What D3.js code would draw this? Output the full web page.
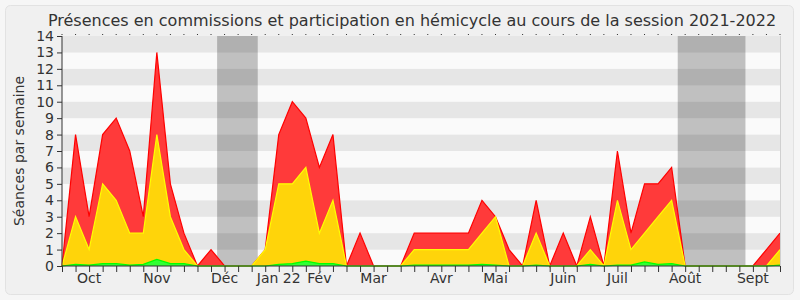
<!DOCTYPE html>
<html><head><meta charset="utf-8">
<script src="https://cdn.jsdelivr.net/npm/d3@7"></script>
<style>html,body{margin:0;padding:0;background:#f6f6f6;}svg{display:block;}</style>
</head><body>
<svg id="chart" width="800" height="300"></svg>
<script>
// Weekly data, session 2021-2022 (week index 0..53)
const weeks = d3.range(0, 54);
const totalSeances = [0,8,3,8,9,7,3,13,5,2,0,1,0,0,0,1,8,10,9,6,8,0,2,0,0,0,2,2,2,2,2,4,3,1,0,4,0,2,0,3,0,7,2,5,5,6,0,0,0,0,0,0,1,2];
const hemicycle =    [0,3,1,5,4,2,2,8,3,1,0,0,0,0,0,1,5,5,6,2,4,0,0,0,0,0,1,1,1,1,1,2,3,0,0,2,0,0,0,1,0,4,1,2,3,4,0,0,0,0,0,0,0,1];
const questions =    [0,0.1,0.05,0.15,0.15,0.05,0.1,0.4,0.15,0.15,0,0,0,0,0,0,0.1,0.15,0.3,0.15,0.15,0,0,0,0,0,0.05,0.05,0.05,0.05,0.05,0.1,0.05,0,0,0.05,0,0,0,0.1,0,0.05,0.05,0.25,0.1,0.15,0,0,0,0,0,0,0,0.05];
const monthLabels = ["Oct","Nov","Déc","Jan 22","Fév","Mar","Avr","Mai","Juin","Juil","Août","Sept"];
const monthWeeks = [2,7,12,16,19,23,28,32,37,41,46,51];
const holidays = [[11.45,14.45],[45.45,50.45]];
const yTicks = d3.range(0, 15);

const svg = d3.select("#chart");
const m = {l:62, r:780, t:36, b:266};
const x = d3.scaleLinear().domain([0,53]).range([m.l, m.r]);
const y = d3.scaleLinear().domain([0,14]).range([m.b, m.t]);

svg.append("rect").attr("x",5.5).attr("y",5.5).attr("width",788).attr("height",289)
  .attr("rx",5).attr("fill","#f0f0f0").attr("stroke","#e2e2e2");

svg.append("text").attr("x",412).attr("y",26).attr("text-anchor","middle")
  .attr("font-family","DejaVu Sans").attr("font-size",16).attr("fill","#333")
  .text("Présences en commissions et participation en hémicycle au cours de la session 2021-2022");

// stripes
svg.append("g").selectAll("rect").data(d3.range(0,14)).join("rect")
  .attr("x", m.l).attr("width", m.r - m.l)
  .attr("y", d => y(d+1)).attr("height", d => y(d) - y(d+1))
  .attr("fill", d => d % 2 === 1 ? "#e6e6e6" : "#fafafa");

// holidays
svg.append("g").selectAll("rect").data(holidays).join("rect")
  .attr("x", d => x(d[0])).attr("width", d => x(d[1]) - x(d[0]))
  .attr("y", m.t).attr("height", m.b - m.t)
  .attr("fill", "rgba(0,0,0,0.23)");

const mkArea = vals => d3.area().x((d,i)=>x(weeks[i])).y0(y(0)).y1((d,i)=>y(vals[i]))(vals);
const mkLine = vals => d3.line().x((d,i)=>x(weeks[i])).y((d,i)=>y(vals[i]))(vals);

[[totalSeances,"#ff3a3a","#ff0000"],[hemicycle,"#ffd40a","#ffff00"],[questions,"#33ff33","#00ff00"]].forEach(([v,f,s])=>{
  svg.append("path").attr("d", mkArea(v)).attr("fill", f);
  svg.append("path").attr("d", mkLine(v)).attr("fill","none").attr("stroke", s).attr("stroke-width",1.2);
});

// right border
svg.append("line").attr("x1",m.r+0.5).attr("x2",m.r+0.5).attr("y1",m.t).attr("y2",m.b).attr("stroke","#d0d0d0");

// y axis
const ya = svg.append("g").attr("transform",`translate(${m.l},0)`)
  .call(d3.axisLeft(y).tickValues(yTicks).tickSize(5).tickPadding(3).tickFormat(d3.format("d")));
ya.selectAll("text").attr("font-family","DejaVu Sans").attr("font-size",14).attr("fill","#333");
ya.selectAll("line,path").attr("stroke","#333");
ya.select(".domain").attr("d", `M0,${m.t}V${m.b}`);

// x axis
const xa = svg.append("g").attr("transform",`translate(0,${m.b})`)
  .call(d3.axisBottom(x).tickValues(weeks).tickSize(6).tickFormat(""));
xa.selectAll("line,path").attr("stroke","#333");
xa.select(".domain").attr("d", `M${m.l},0H${m.r}`);
svg.append("g").selectAll("text").data(monthLabels).join("text")
  .attr("x",(d,i)=>x(monthWeeks[i])).attr("y",283).attr("text-anchor","middle")
  .attr("font-family","DejaVu Sans").attr("font-size",14).attr("fill","#333").text(d=>d);

// top dotted ticks
svg.append("g").selectAll("line").data(weeks).join("line")
  .attr("x1",d=>x(d)).attr("x2",d=>x(d)).attr("y1",m.t-2).attr("y2",m.t-1)
  .attr("stroke","#333");

// y label
svg.append("text").attr("transform","translate(24,151) rotate(-90)").attr("text-anchor","middle")
  .attr("font-family","DejaVu Sans").attr("font-size",14).attr("fill","#333").text("Séances par semaine");
</script>
</body></html>
